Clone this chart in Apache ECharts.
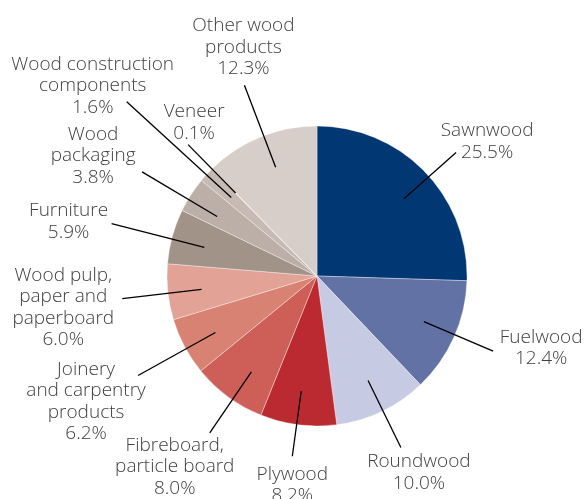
<!DOCTYPE html>
<html>
<head>
<meta charset="utf-8">
<script src="https://cdn.jsdelivr.net/npm/echarts@6/dist/echarts.min.js"></script>
<style>
html,body{margin:0;padding:0;background:#fff;}
#chart{width:584px;height:499px;}
</style>
</head>
<body>
<div id="chart"></div>
<script>
// ---- data ----
const categories = [
  'Sawnwood', 'Fuelwood', 'Roundwood', 'Plywood', 'Fibreboard, particle board',
  'Joinery and carpentry products', 'Wood pulp, paper and paperboard', 'Furniture',
  'Wood packaging', 'Wood construction components', 'Veneer', 'Other wood products'
];
const labelLines = [
  'Sawnwood', 'Fuelwood', 'Roundwood', 'Plywood', 'Fibreboard,\nparticle board',
  'Joinery\nand carpentry\nproducts', 'Wood pulp,\npaper and\npaperboard', 'Furniture',
  'Wood\npackaging', 'Wood construction\ncomponents', 'Veneer', 'Other wood\nproducts'
];
const shares = [25.5, 12.4, 10.0, 8.2, 8.0, 6.2, 6.0, 5.9, 3.8, 1.6, 0.1, 12.3];
const colors = [
  '#013772', '#6272a4', '#c6cae2', '#bb2a31', '#cd5f58', '#d88274',
  '#e2a296', '#a19387', '#bbafa7', '#c6bab3', '#cfc5c0', '#d7cdc9'
];

// ---- layout settings ----
const CX = 317, CY = 276, R = 150;
const leaderInner = 0.775;                 // fraction of radius where leader starts
const leaderOuter = [1.24, 1.277, 1.273, 1.213, 1.267, 1.365, 1.307, 1.413, 1.357, 1.72, 1.227, 1.36];
const leaderShift = [-2.5, 1, 0.5, -0.6, 2, 1, 0.5, 1, 2, 0, 0, -1.3];   // degrees
const labelOffsets = [
  [31, -11], [48, -3], [18, 25], [0, 29], [-35, 34], [-52, 26],
  [-59, 9], [-43, -2], [-49, -16], [-34, -16], [6, -22], [-1, -38]
];

const total = shares.reduce((a, b) => a + b, 0);
const cum = [];
shares.reduce((acc, v, i) => { cum[i] = acc; return acc + v; }, 0);

function midDir(i) {
  const a = (90 - (cum[i] + shares[i] / 2) / total * 360 + leaderShift[i]) * Math.PI / 180;
  return [Math.cos(a), -Math.sin(a)];
}

const chart = echarts.init(document.getElementById('chart'), null, {renderer: 'canvas'});
const pieData = categories.map((name, i) => ({
  name: name, value: shares[i], itemStyle: {color: colors[i]}
}));

chart.setOption({
  animation: false,
  backgroundColor: '#ffffff',
  series: [
    {
      type: 'pie',
      center: [CX, CY],
      radius: R,
      startAngle: 90,
      clockwise: true,
      avoidLabelOverlap: false,
      silent: true,
      itemStyle: {borderColor: 'rgba(255,255,255,0.6)', borderWidth: 0.6},
      label: {show: false},
      labelLine: {show: false},
      data: pieData
    },
    {
      type: 'pie',
      z: 5,
      center: [CX, CY],
      radius: R,
      startAngle: 90,
      clockwise: true,
      avoidLabelOverlap: false,
      silent: true,
      itemStyle: {color: 'rgba(0,0,0,0)', borderWidth: 0},
      label: {
        show: true,
        position: 'outside',
        fontFamily: 'Open Sans',
        fontSize: 19,
        fontWeight: 300,
        lineHeight: 21.5,
        color: '#404040',
        align: 'center',
        formatter: p => labelLines[p.dataIndex] + '\n' + shares[p.dataIndex].toFixed(1) + '%'
      },
      labelLine: {
        show: true,
        length: 10,
        length2: 0,
        smooth: false,
        lineStyle: {color: '#000000', width: 1.3}
      },
      labelLayout: function (params) {
        const i = params.dataIndex;
        const d = midDir(i);
        const p0 = [CX + d[0] * R * leaderInner, CY + d[1] * R * leaderInner];
        const p1 = [CX + d[0] * R * leaderOuter[i], CY + d[1] * R * leaderOuter[i]];
        return {
          x: p1[0] + labelOffsets[i][0],
          y: p1[1] + labelOffsets[i][1],
          align: 'center',
          verticalAlign: 'middle',
          labelLinePoints: [p0, p1, p1]
        };
      },
      data: pieData.map(d => ({name: d.name, value: d.value}))
    }
  ]
});
</script>
</body>
</html>
